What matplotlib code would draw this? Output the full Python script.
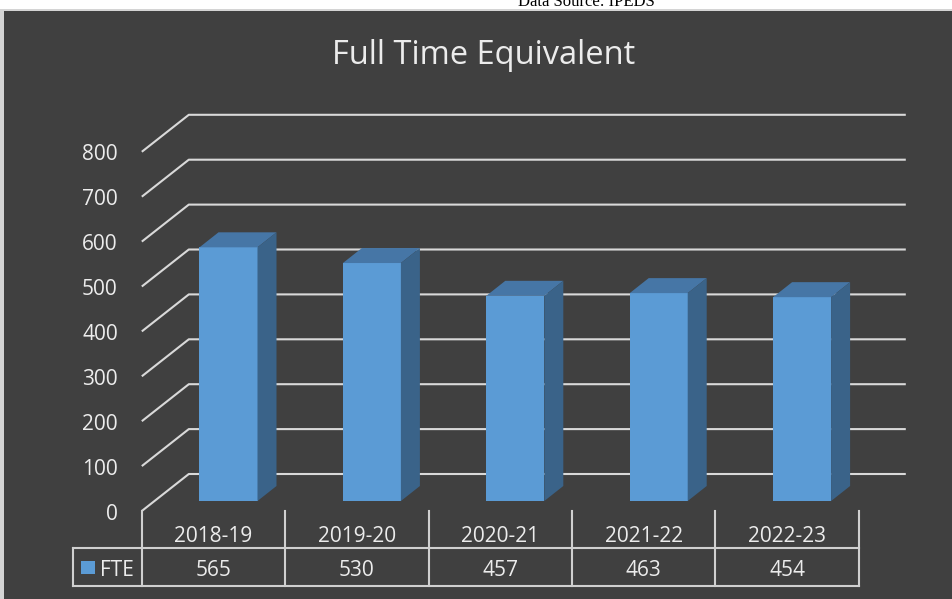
import matplotlib
matplotlib.use("Agg")
import matplotlib.pyplot as plt
from matplotlib.patches import Polygon, Rectangle

# ---------------- data ----------------
categories = ["2018-19", "2019-20", "2020-21", "2021-22", "2022-23"]
fte = [565, 530, 457, 463, 454]
series_name = "FTE"
y_ticks = [0, 100, 200, 300, 400, 500, 600, 700, 800]
title = "Full Time Equivalent"
source_note = "Data Source: IPEDS"

# ---------------- style ----------------
W, H = 953, 599
BG = "#404040"
GRID = "#d9d9d9"
TXT = "#ececec"
FRONT = "#5b9bd5"
TOP = "#4676a6"
SIDE = "#3a6389"
FONT = ["Open Sans", "DejaVu Sans"]

# pixel geometry helpers (used to set up linear axes scales)
X0, XS = 213.5, 143.4        # pixel x of category 0 centre, pixels per category
Y0, YS = 511.0, 0.449        # pixel y (from top) of value 0 on front plane, pixels per unit

def vy(py):                   # pixel-from-top -> value units
    return (Y0 - py) / YS

def cx(px):                   # pixel x -> category units
    return (px - X0) / XS

DX = 47 / XS                  # full depth offset (category units)
DY = 37 / YS                  # full depth offset (value units)
BAR_SHIFT = 15 / XS
BAR_F1 = 0.27                 # depth of bar front face
BAR_W = 58 / XS
BAR_DX = 19 / XS
BAR_DY = 15 / YS
LBL_DROP = 3 / YS             # visual centring of digits

fig = plt.figure(figsize=(W / 100, H / 100), dpi=100, facecolor="white")
fig.patches.append(Rectangle((0, 0), 1, (H - 9) / H, transform=fig.transFigure,
                             facecolor="#d4d4d4", edgecolor="none", zorder=-10))
fig.patches.append(Rectangle((4 / W, 0), 1, (H - 11) / H, transform=fig.transFigure,
                             facecolor=BG, edgecolor="none", zorder=-9))

ax = fig.add_axes([0, 0, 1, 1])
ax.set_axis_off()
ax.patch.set_visible(False)
ax.set_xlim(cx(0), cx(W))
ax.set_ylim(vy(H), vy(0))

n = len(categories)
left_edge = -0.5
right_edge = n - 0.5

# gridlines (left wall diagonal + back wall)
for v in y_ticks:
    ax.plot([left_edge, left_edge + DX, right_edge + DX], [v, v + DY, v + DY],
            color=GRID, lw=1.5, solid_capstyle="butt", zorder=1)
    ax.text(left_edge - 24 / XS, v - LBL_DROP, str(v), ha="right", va="center",
            fontsize=15, color=TXT, family=FONT)

# 3D bars
for i, val in enumerate(fte):
    base = BAR_F1 * DY
    xl = i + BAR_SHIFT - BAR_W / 2
    xr = xl + BAR_W
    front = Rectangle((xl, base), BAR_W, val, facecolor=FRONT, edgecolor="none", zorder=3)
    top = Polygon([(xl, base + val), (xr, base + val), (xr + BAR_DX, base + val + BAR_DY),
                   (xl + BAR_DX, base + val + BAR_DY)], closed=True,
                  facecolor=TOP, edgecolor="none", zorder=3)
    side = Polygon([(xr, base), (xr + BAR_DX, base + BAR_DY),
                    (xr + BAR_DX, base + val + BAR_DY), (xr, base + val)], closed=True,
                   facecolor=SIDE, edgecolor="none", zorder=3)
    for p in (front, top, side):
        ax.add_patch(p)

# data table
TBL = "#d0d0d0"
row1 = vy(548)
row2 = vy(586)
legend_left = cx(73)
for k in range(n + 1):
    ax.plot([k - 0.5, k - 0.5], [0, row2], color=TBL, lw=1.5, zorder=2)
ax.plot([legend_left, legend_left], [row1, row2], color=TBL, lw=1.5, zorder=2)
ax.plot([legend_left, right_edge], [row1, row1], color=TBL, lw=1.5, zorder=2)
ax.plot([legend_left, right_edge], [row2, row2], color=TBL, lw=1.5, zorder=2)

for i, (cat, val) in enumerate(zip(categories, fte)):
    ax.text(i, vy(534) - LBL_DROP, cat, ha="center", va="center", fontsize=15,
            color=TXT, family=FONT)
    ax.text(i, vy(567) - LBL_DROP, str(val), ha="center", va="center", fontsize=15,
            color=TXT, family=FONT)

ax.add_patch(Rectangle((cx(81), vy(574)), 14 / XS, 13 / YS, facecolor=FRONT,
                       edgecolor="none", zorder=3))
ax.text(cx(100), vy(567) - LBL_DROP, series_name, ha="left", va="center", fontsize=15,
        color=TXT, family=FONT)

# title and source note
fig.text(484 / W, 1 - 55 / H, title, ha="center", va="center", fontsize=23.5,
         color=TXT, family=FONT)
fig.text(586 / W, 1 - 6 / H, source_note, ha="center", va="baseline", fontsize=12,
         color="black", family=["Liberation Serif", "DejaVu Serif"])

fig.savefig("out.png", dpi=100, facecolor=fig.get_facecolor())
